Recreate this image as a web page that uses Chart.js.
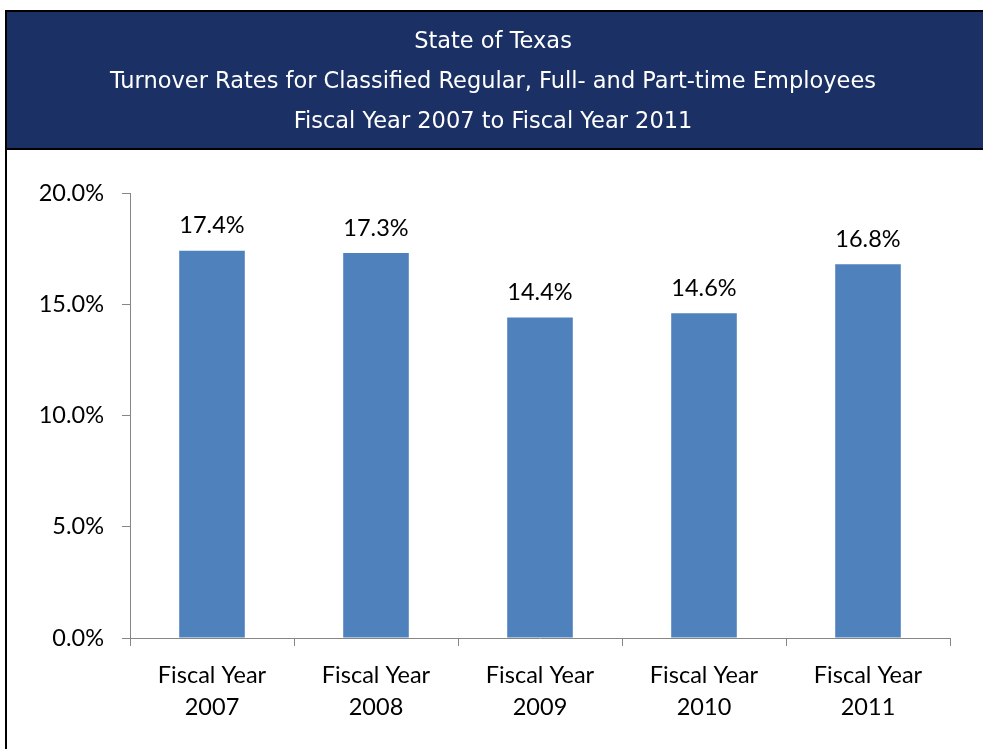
<!DOCTYPE html>
<html>
<head>
<meta charset="utf-8">
<script src="https://cdn.jsdelivr.net/npm/chart.js@4/dist/chart.umd.min.js"></script>
<style>
  html, body { margin: 0; padding: 0; background: #fff; }
  #wrap { position: absolute; left: 0; top: 0; width: 983px; height: 749px; }
</style>
</head>
<body>
<div id="wrap"><canvas id="turnover_barchart" width="983" height="749"></canvas></div>
<script>
/* 데이터 */
const titleLines = ['State of Texas', 'Turnover Rates for Classified Regular, Full- and Part-time Employees', 'Fiscal Year 2007 to Fiscal Year 2011'];
const categories = [['Fiscal Year', '2007'], ['Fiscal Year', '2008'], ['Fiscal Year', '2009'], ['Fiscal Year', '2010'], ['Fiscal Year', '2011']];
const turnoverRates = [17.4, 17.3, 14.4, 14.6, 16.8];
const yTicks = [0, 5, 10, 15, 20];

// 헤더 배경 + 테두리
const frame = {
  id: 'frame',
  beforeDraw(chart) {
    const ctx = chart.ctx;
    ctx.save();
    ctx.fillStyle = '#1B3165';
    ctx.fillRect(6, 11, 983, 138);
    ctx.strokeStyle = '#000';
    ctx.lineWidth = 2;
    ctx.beginPath();
    ctx.moveTo(6, 760); ctx.lineTo(6, 11); ctx.lineTo(990, 11);
    ctx.moveTo(6, 149); ctx.lineTo(990, 149);
    ctx.stroke();
    ctx.restore();
  }
};

// 막대 위 값 표시
const barLabels = {
  id: 'barLabels',
  afterDatasetsDraw(chart) {
    const ctx = chart.ctx;
    const meta = chart.getDatasetMeta(0);
    ctx.save();
    ctx.fillStyle = '#000';
    ctx.font = '23.5px Lato';
    ctx.textAlign = 'center';
    ctx.textBaseline = 'middle';
    meta.data.forEach((bar, i) => {
      ctx.fillText(turnoverRates[i].toFixed(1) + '%', bar.x, bar.y - 25);
    });
    ctx.restore();
  }
};

new Chart(document.getElementById('turnover_barchart'), {
  type: 'bar',
  data: {
    labels: categories,
    datasets: [{
      data: turnoverRates,
      backgroundColor: '#4F81BD',
      categoryPercentage: 1,
      barPercentage: 0.4
    }]
  },
  options: {
    responsive: false,
    animation: false,
    layout: { padding: { left: 36, right: 33, top: 0, bottom: 13 } },
    plugins: {
      legend: { display: false },
      tooltip: { enabled: false },
      title: {
        display: true,
        text: titleLines,
        color: '#fff',
        font: { family: 'DejaVu Sans', size: 22.5, weight: 'normal', lineHeight: 40 / 22.5 },
        padding: { top: 22, bottom: 51 }
      }
    },
    scales: {
      x: {
        grid: { display: true, drawOnChartArea: false, color: '#868686', tickLength: 8, offset: true },
        border: { color: '#868686' },
        ticks: { color: '#000', font: { family: 'Lato', size: 23.5, lineHeight: 32 / 23.5 }, padding: 13, maxRotation: 0 }
      },
      y: {
        min: 0,
        max: 20,
        afterFit(scale) { scale.width = 94; },
        afterBuildTicks(scale) { scale.ticks = yTicks.map(v => ({ value: v })); },
        grid: { display: true, drawOnChartArea: false, color: '#868686', tickLength: 8 },
        border: { color: '#868686' },
        ticks: {
          color: '#000',
          font: { family: 'Lato', size: 23.5 },
          padding: 18,
          callback: function(value) { return value.toFixed(1) + '%'; }
        }
      }
    }
  },
  plugins: [frame, barLabels]
});
</script>
</body>
</html>
